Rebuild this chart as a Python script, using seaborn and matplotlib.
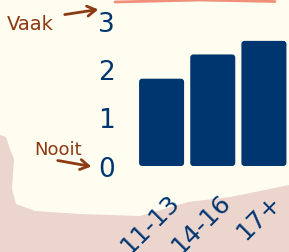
import numpy as np
import matplotlib
matplotlib.use("Agg")
import matplotlib.pyplot as plt
import matplotlib.transforms as mtransforms
from matplotlib.patches import FancyBboxPatch, Polygon
from matplotlib.lines import Line2D
import seaborn as sns
import pandas as pd

# age groups and average score (0 = nooit, 3 = vaak)
groups = ["11-13", "14-16", "17+"]
scores = [1.8, 2.3, 2.58]
y_ticks = [0, 1, 2, 3]

navy = "#003670"
cream = "#FFFDF0"
pink = "#ECD5CD"
brown = "#8B3A12"

sns.set_theme(style="white")
plt.rcParams["font.family"] = ["DejaVu Sans"]

df = pd.DataFrame({"group": groups, "score": scores})

fig = plt.figure(figsize=(2.89, 2.53), dpi=100)
fig.patch.set_facecolor(cream)
W, H = 289, 253

# torn paper background (pixel coords from top-left), drawn in its own axes at the back
bg = fig.add_axes([0, 0, 1, 1], zorder=-5)
bg.set_axis_off()
bg.set_xlim(0, W)
bg.set_ylim(H, 0)
pts = [(0, 136), (6, 138), (10, 150), (14, 160), (12, 190), (16, 205), (35, 212),
       (80, 215), (140, 217), (188, 203), (230, 198), (260, 192), (289, 186),
       (289, 253), (0, 253)]
bg.add_patch(Polygon(pts, closed=True, facecolor=pink, edgecolor="none"))
bg.plot([115, 200, 275], [3, 1, 2.5], color="#F0907A", lw=2)

# annotations
bg.text(7, 24, "Vaak", color=brown, fontsize=14, va="center", ha="left")
bg.text(34, 150, "Nooit", color=brown, fontsize=13, va="center", ha="left")
bg.annotate("", xy=(101, 10), xytext=(62, 16),
            arrowprops=dict(arrowstyle="->,head_length=0.5,head_width=0.3",
                            color=brown, lw=2))
bg.annotate("", xy=(94, 168), xytext=(55, 161),
            arrowprops=dict(arrowstyle="->,head_length=0.5,head_width=0.3",
                            color=brown, lw=2))

ax = fig.add_axes([136 / W, 1 - 167 / H, 153.5 / W, 145.5 / H], zorder=2)
ax.set_facecolor("none")
sns.barplot(data=df, x="group", y="score", color=navy, saturation=1,
            width=0.88, ax=ax)

# rounded bar tops
for p in list(ax.patches):
    x0, y0 = p.get_x(), p.get_y()
    w, h = p.get_width(), p.get_height()
    p.remove()
    ax.add_patch(FancyBboxPatch((x0, y0), w, h,
                                boxstyle="round,pad=0,rounding_size=0.06",
                                mutation_aspect=1.05, facecolor=navy,
                                edgecolor="none", clip_on=False))

ax.set_xlim(-0.5, 2.5)
ax.set_ylim(0, 3)
ax.set_yticks(y_ticks)
ax.set_yticklabels([str(t) for t in y_ticks], color=navy, fontsize=19)
ax.set_xlabel("")
ax.set_ylabel("")
ax.tick_params(axis="y", length=0, pad=15)
ax.tick_params(axis="x", length=0, pad=0)
sns.despine(ax=ax, left=True, bottom=True)

offset = mtransforms.ScaledTranslation(14 / 100, -32 / 100, fig.dpi_scale_trans)
for lab in ax.get_xticklabels():
    lab.set_rotation(45)
    lab.set_rotation_mode("anchor")
    lab.set_ha("right")
    lab.set_va("center")
    lab.set_color(navy)
    lab.set_fontsize(18)
    lab.set_transform(lab.get_transform() + offset)

fig.savefig("out.png", dpi=100, facecolor=cream)
